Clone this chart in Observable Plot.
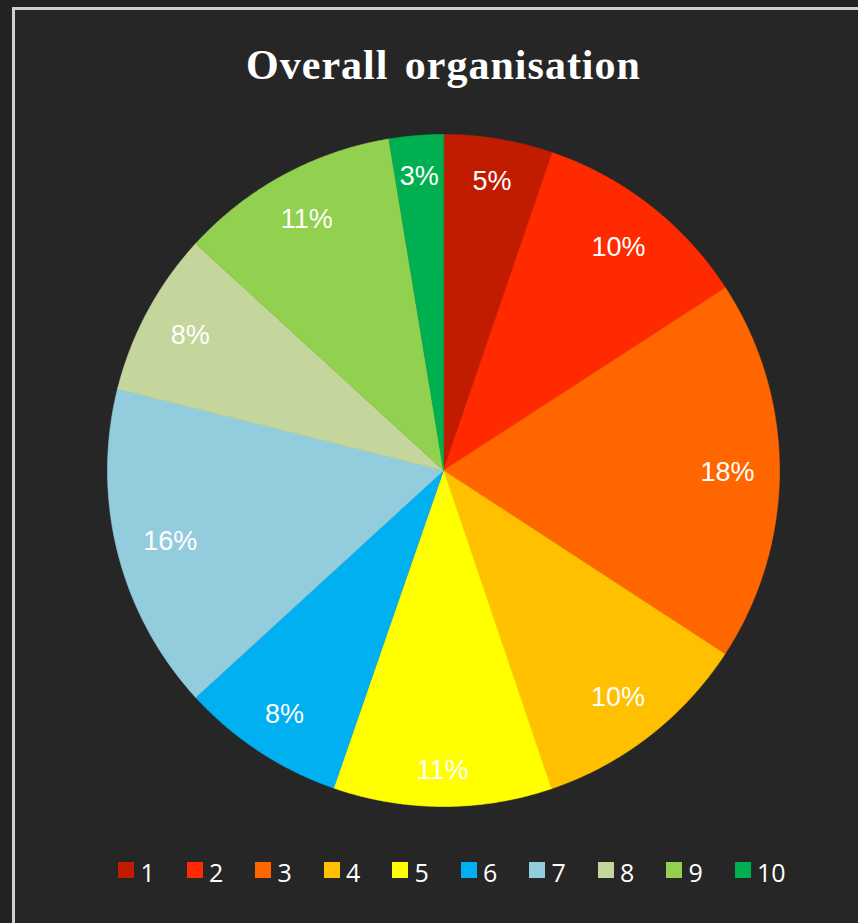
<!DOCTYPE html>
<html><head><meta charset="utf-8">
<script src="https://cdn.jsdelivr.net/npm/d3@7"></script>
<script src="https://cdn.jsdelivr.net/npm/@observablehq/plot@0.6"></script>
<style>
html,body{margin:0;padding:0;background:#222222;width:858px;height:923px;overflow:hidden;position:relative;}
#frame{position:absolute;left:12px;top:7px;width:900px;height:960px;border:3px solid #d0d0d0;background:#262626;box-sizing:border-box;}
#title{position:absolute;left:0;top:44px;width:887px;text-align:center;font-family:"Liberation Serif",serif;font-weight:bold;font-size:42px;line-height:1;color:#fff;letter-spacing:1px;word-spacing:5px;}
#chart{position:absolute;left:93px;top:120px;}
#legend{position:absolute;left:0;top:0;}
.item{position:absolute;}
.sw{position:absolute;left:0;top:0;width:16px;height:16px;}
.lt{position:absolute;left:22.5px;top:-2px;font-family:"Open Sans",sans-serif;font-size:25px;line-height:1;color:#fff;white-space:nowrap;}
</style></head>
<body>
<div id="frame"></div>
<div id="title">Overall organisation</div>
<div id="chart"></div>
<div id="legend"></div>
<script>
const categories = ["1","2","3","4","5","6","7","8","9","10"];
const shares = [5.25, 10.6, 18.35, 10.6, 10.5, 7.9, 15.7, 7.9, 10.6, 2.6];
const percentLabels = ["5%","10%","18%","10%","11%","8%","16%","8%","11%","3%"];
const colors = ["#C21C00","#FF2A00","#FF6600","#FFC000","#FFFF00","#00B0F0","#93CDDD","#C4D69C","#92D050","#00B050"];

const R = 336;
const pie = d3.pie().sort(null).value(d => d.value);
const arcs = pie(categories.map((c, i) => ({key: c, value: shares[i], label: percentLabels[i]})));

// wedge outlines
const pts = [];
for (const a of arcs) {
  const k = a.data.key;
  pts.push({key: k, x: 0, y: 0});
  const n = Math.max(2, Math.ceil((a.endAngle - a.startAngle) / 0.005));
  for (let j = 0; j <= n; j++) {
    const t = a.startAngle + (a.endAngle - a.startAngle) * j / n;
    pts.push({key: k, x: R * Math.sin(t), y: R * Math.cos(t)});
  }
}
// "inside end" label placement: label box kept inside the rim
const pad = 26, boxH = 24;
const labels = arcs.map(a => {
  const m = (a.startAngle + a.endAngle) / 2;
  const w = 14 * (a.data.label.length - 1) + 24;
  const ext = Math.abs(Math.sin(m)) * w / 2 + Math.abs(Math.cos(m)) * boxH / 2;
  const r = R - pad - ext;
  return {key: a.data.key, x: r * Math.sin(m), y: r * Math.cos(m), text: a.data.label};
});

const plot = Plot.plot({
  width: 700, height: 700,
  margin: 0,
  x: {domain: [-350, 350], axis: null},
  y: {domain: [-350, 350], axis: null},
  color: {domain: categories, range: colors},
  style: {background: "transparent"},
  marks: [
    Plot.line(pts, {x: "x", y: "y", z: "key", fill: "key", stroke: "key", strokeWidth: 0.6, curve: "linear-closed"}),
    Plot.text(labels, {x: "x", y: "y", text: "text", fill: "white", fontSize: 27, dy: 1.5, fontFamily: "Liberation Sans, Arial, sans-serif"})
  ]
});
document.getElementById("chart").appendChild(plot);

const lg = document.getElementById("legend");
categories.forEach((c, i) => {
  const it = document.createElement("div");
  it.className = "item";
  it.style.left = (118 + i * 68.5) + "px";
  it.style.top = "862px";
  const sw = document.createElement("div");
  sw.className = "sw";
  sw.style.background = plot.scale("color").apply(c);
  const t = document.createElement("div");
  t.className = "lt";
  t.textContent = c;
  it.appendChild(sw); it.appendChild(t);
  lg.appendChild(it);
});
</script>
</body></html>
